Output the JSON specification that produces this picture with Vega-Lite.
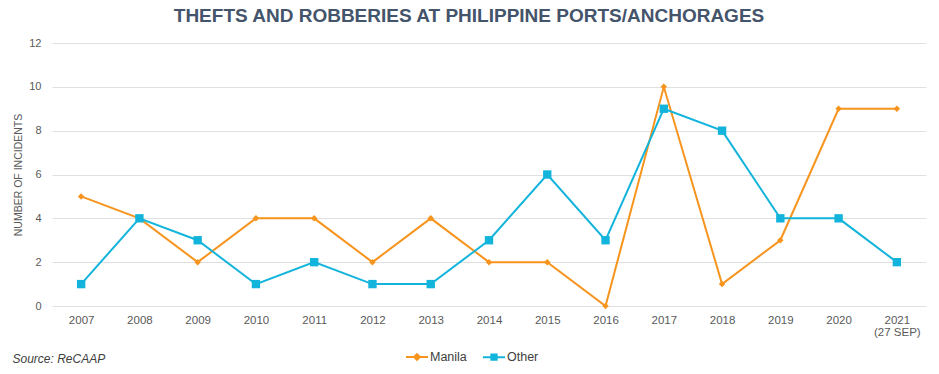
{
  "$schema": "https://vega.github.io/schema/vega-lite/v6.json",
  "width": 874,
  "height": 263,
  "autosize": {"type": "none"},
  "padding": {"left": 52, "top": 43, "right": 13, "bottom": 68},
  "background": "white",
  "title": {
    "text": "THEFTS AND ROBBERIES AT PHILIPPINE PORTS/ANCHORAGES",
    "font": "Liberation Sans",
    "fontSize": 19,
    "fontWeight": "bold",
    "color": "#44546a",
    "anchor": "middle",
    "dx": -20,
    "offset": 11
  },
  "data": {
    "values": [
      {"year": "2007", "series": "Manila", "value": 5},
      {"year": "2008", "series": "Manila", "value": 4},
      {"year": "2009", "series": "Manila", "value": 2},
      {"year": "2010", "series": "Manila", "value": 4},
      {"year": "2011", "series": "Manila", "value": 4},
      {"year": "2012", "series": "Manila", "value": 2},
      {"year": "2013", "series": "Manila", "value": 4},
      {"year": "2014", "series": "Manila", "value": 2},
      {"year": "2015", "series": "Manila", "value": 2},
      {"year": "2016", "series": "Manila", "value": 0},
      {"year": "2017", "series": "Manila", "value": 10},
      {"year": "2018", "series": "Manila", "value": 1},
      {"year": "2019", "series": "Manila", "value": 3},
      {"year": "2020", "series": "Manila", "value": 9},
      {"year": "2021", "series": "Manila", "value": 9},
      {"year": "2007", "series": "Other", "value": 1},
      {"year": "2008", "series": "Other", "value": 4},
      {"year": "2009", "series": "Other", "value": 3},
      {"year": "2010", "series": "Other", "value": 1},
      {"year": "2011", "series": "Other", "value": 2},
      {"year": "2012", "series": "Other", "value": 1},
      {"year": "2013", "series": "Other", "value": 1},
      {"year": "2014", "series": "Other", "value": 3},
      {"year": "2015", "series": "Other", "value": 6},
      {"year": "2016", "series": "Other", "value": 3},
      {"year": "2017", "series": "Other", "value": 9},
      {"year": "2018", "series": "Other", "value": 8},
      {"year": "2019", "series": "Other", "value": 4},
      {"year": "2020", "series": "Other", "value": 4},
      {"year": "2021", "series": "Other", "value": 2}
    ]
  },
  "encoding": {
    "x": {
      "field": "year",
      "type": "ordinal",
      "scale": {"type": "point", "padding": 0.5},
      "axis": {
        "title": "Source: ReCAAP",
        "titleFont": "Liberation Sans",
        "titleFontSize": 12,
        "titleFontStyle": "italic",
        "titleFontWeight": "normal",
        "titleColor": "#404040",
        "titleAnchor": "start",
        "titleAlign": "left",
        "titleBaseline": "alphabetic",
        "titleX": -40,
        "titleY": 56,
        "labelAngle": 0,
        "labelFont": "Liberation Sans",
        "labelFontSize": 11.5,
        "labelColor": "#595959",
        "labelPadding": 8,
        "labelLineHeight": 12,
        "labelExpr": "datum.value == '2021' ? ['2021', '(27 SEP)'] : datum.value",
        "ticks": false,
        "domain": false,
        "grid": false
      }
    },
    "y": {
      "field": "value",
      "type": "quantitative",
      "scale": {"domain": [0, 12]},
      "axis": {
        "title": "NUMBER OF INCIDENTS",
        "titleFont": "Liberation Sans",
        "titleFontSize": 10.5,
        "titleFontWeight": "normal",
        "titleColor": "#595959",
        "titlePadding": 5,
        "values": [0, 2, 4, 6, 8, 10, 12],
        "labelFont": "Liberation Sans",
        "labelFontSize": 11,
        "labelColor": "#595959",
        "labelPadding": 11,
        "ticks": false,
        "domain": false,
        "grid": true,
        "gridColor": "#e0e0e0",
        "gridWidth": 1
      }
    },
    "color": {
      "field": "series",
      "type": "nominal",
      "scale": {"domain": ["Manila", "Other"], "range": ["#f7941d", "#12b4dc"]},
      "legend": {
        "title": null,
        "orient": "none",
        "legendX": 353,
        "legendY": 302,
        "direction": "horizontal",
        "labelFont": "Liberation Sans",
        "labelFontSize": 12.5,
        "labelColor": "#404040",
        "labelOffset": 1,
        "columnPadding": 12,
        "symbolSize": 484,
        "encode": {
          "symbols": {
            "update": {
              "shape": {"signal": "datum.value === 'Manila' ? 'M-1,0H1M0,-0.26L0.26,0L0,0.26L-0.26,0Z' : 'M-1,0H1M-0.24,-0.24H0.24V0.24H-0.24Z'"},
              "fill": {"signal": "datum.value === 'Manila' ? '#f7941d' : '#12b4dc'"},
              "stroke": {"signal": "datum.value === 'Manila' ? '#f7941d' : '#12b4dc'"},
              "strokeWidth": {"value": 2},
              "size": {"value": 484},
              "opacity": {"value": 1},
              "fillOpacity": {"value": 1}
            }
          }
        }
      }
    }
  },
  "layer": [
    {
      "mark": {"type": "line", "strokeWidth": 2}
    },
    {
      "transform": [{"filter": "datum.series === 'Manila'"}],
      "mark": {"type": "point", "filled": true, "opacity": 1, "shape": "diamond", "size": 42}
    },
    {
      "transform": [{"filter": "datum.series === 'Other'"}],
      "mark": {"type": "point", "filled": true, "opacity": 1, "shape": "square", "size": 70}
    }
  ],
  "config": {
    "view": {"stroke": null}
  }
}
